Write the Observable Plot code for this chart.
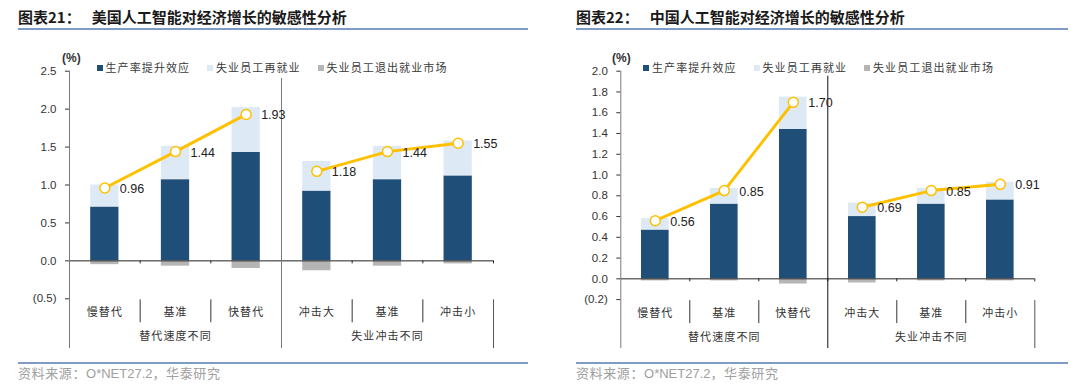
<!DOCTYPE html>
<html>
<head>
<meta charset="utf-8">
<script src="https://cdn.jsdelivr.net/npm/d3@7"></script>
<script src="https://cdn.jsdelivr.net/npm/@observablehq/plot@0.6"></script>
<style>
  html, body { margin: 0; padding: 0; background: #fff; }
  body { width: 1080px; height: 390px; overflow: hidden; position: relative; font-family: "Liberation Sans", Arial, sans-serif; }
  .panel { position: absolute; top: 0; width: 540px; height: 390px; }
  .title { position: absolute; top: 6px; font: bold 15px "Noto Sans CJK SC", sans-serif; color: #1a1a1a; white-space: nowrap; line-height: 22px; }
  .title .gap { display: inline-block; width: 11px; }
  .hrule { position: absolute; height: 2px; background: #7f9cc7; }
  .frule { position: absolute; height: 1.5px; background: #7f9cc7; }
  .source { position: absolute; top: 364px; font: 13px "Noto Sans CJK SC", sans-serif; color: #a0a0a0; letter-spacing: 0.6px; white-space: nowrap; line-height: 18px; }
  .source .lat { font-family: "Liberation Sans", Arial, sans-serif; letter-spacing: 0; }
  .plotbox { position: absolute; top: 40px; left: 0; }
  .unit { position: absolute; top: 51px; font: bold 12px "Liberation Sans", Arial, sans-serif; color: #333; }
  .legend { position: absolute; top: 59px; height: 16px; font: 11px "Noto Sans CJK SC", sans-serif; color: #3a3a3a; letter-spacing: 1.1px; white-space: nowrap; line-height: 16px; }
  .legend span.sw { display: inline-block; width: 6px; height: 6px; margin-right: 3px; vertical-align: 1px; }
  .legend .item { position: absolute; top: 0; }
  g[font-family*="CJK"] text { letter-spacing: 1.1px; }
</style>
</head>
<body>
<script>
// ---------- data ----------
const categories = ["慢替代", "基准", "快替代", "冲击大", "基准", "冲击小"];
const groupNames = ["替代速度不同", "失业冲击不同"];
const seriesNames = ["生产率提升效应", "失业员工再就业", "失业员工退出就业市场"];

// 美国 (图表21)
const usProductivity = [0.71, 1.07, 1.43, 0.92, 1.07, 1.12];
const usReemployment = [0.29, 0.44, 0.59, 0.39, 0.44, 0.46];
const usExit         = [-0.05, -0.07, -0.10, -0.13, -0.07, -0.04];
const usNet          = [0.96, 1.44, 1.93, 1.18, 1.44, 1.55];
const usYTicks       = [-0.5, 0, 0.5, 1.0, 1.5, 2.0, 2.5];

// 中国 (图表22)
const cnProductivity = [0.47, 0.72, 1.44, 0.60, 0.72, 0.76];
const cnReemployment = [0.11, 0.15, 0.31, 0.13, 0.15, 0.17];
const cnExit         = [-0.02, -0.02, -0.05, -0.04, -0.02, -0.02];
const cnNet          = [0.56, 0.85, 1.70, 0.69, 0.85, 0.91];
const cnYTicks       = [-0.2, 0, 0.2, 0.4, 0.6, 0.8, 1.0, 1.2, 1.4, 1.6, 1.8, 2.0];

const titles = ["图表21：", "图表22："];
const titleTexts = ["美国人工智能对经济增长的敏感性分析", "中国人工智能对经济增长的敏感性分析"];
const sourceText = ["资料来源：", "O*NET27.2", "，华泰研究"];

// ---------- style ----------
const COLORS = ["#1F4E79", "#DDEAF6", "#B5B5B5"];
const LINE = "#FFC000";

const fmt = v => v < 0 ? `(${Math.abs(v).toFixed(1)})` : v.toFixed(1);

function chart(cfg) {
  const rows = categories.map((c, i) => ({
    i, c, g: i < 3 ? 0 : 1,
    prod: cfg.prod[i], re: cfg.re[i], exit: cfg.exit[i], net: cfg.net[i]
  }));
  const groupRows = groupNames.map((name, k) => ({name, pos: k * 3 + 1.5}));
  const H = 315;
  const frameBottom = H - cfg.mb;
  const frameH = frameBottom - cfg.mt;
  const longEnd = 308;
  const ext = frameBottom - longEnd;
  const bx1 = d => d.i + 0.3, bx2 = d => d.i + 0.7, cx = d => d.i + 0.5;
  return Plot.plot({
    width: 540, height: H,
    marginLeft: cfg.ml, marginRight: cfg.mr, marginTop: cfg.mt, marginBottom: cfg.mb,
    style: {fontFamily: "Liberation Sans, Arial, sans-serif", fontSize: "11.5px", color: "#333", background: "transparent", overflow: "visible"},
    x: {domain: [0, 6], axis: null},
    y: {domain: cfg.yDomain, ticks: cfg.yTicks, tickFormat: fmt, tickSize: 4, tickPadding: 9, label: null},
    marks: [
      Plot.rect(rows, {x1: bx1, x2: bx2, y1: 0, y2: "prod", fill: COLORS[0]}),
      Plot.rect(rows, {x1: bx1, x2: bx2, y1: "prod", y2: d => d.prod + d.re, fill: COLORS[1]}),
      Plot.rect(rows, {x1: bx1, x2: bx2, y1: 0, y2: "exit", fill: COLORS[2]}),
      Plot.ruleY([0], {stroke: "#222", strokeWidth: 1}),
      Plot.ruleX([1, 2, 3, 4, 5, 6], {y1: 0, y2: 0, insetBottom: -3, stroke: "#222"}),
      Plot.ruleX([0], {stroke: "#7a7a7a", insetBottom: ext}),
      Plot.ruleX([3], {stroke: cfg.sepColor, insetTop: cfg.sepInset, insetBottom: ext}),
      Plot.ruleX([6], {stroke: "#555", insetTop: frameH + 1, insetBottom: ext}),
      Plot.ruleX([1, 2, 4, 5], {stroke: "#333", insetTop: frameH + 1, insetBottom: -24}),
      Plot.line(rows, {x: cx, y: "net", z: "g", stroke: LINE, strokeWidth: 3}),
      Plot.dot(rows, {x: cx, y: "net", r: 5, fill: "white", stroke: LINE, strokeWidth: 1.5}),
      Plot.text(rows, {x: cx, y: "net", text: d => d.net.toFixed(2), textAnchor: "start", dx: 15, dy: 1, fontSize: 12.5, fill: "#222"}),
      Plot.text(rows, {x: cx, text: "c", frameAnchor: "bottom", dy: 17, fontFamily: "Noto Sans CJK SC", fontSize: 11, fill: "#333"}),
      Plot.text(groupRows, {x: "pos", text: "name", frameAnchor: "bottom", dy: 41, fontFamily: "Noto Sans CJK SC", fontSize: 11, fill: "#333"})
    ]
  });
}

function panel(left, cfg) {
  const p = document.createElement("div");
  p.className = "panel";
  p.style.left = left + "px";
  document.body.appendChild(p);

  const t = document.createElement("div");
  t.className = "title";
  t.style.left = cfg.textLeft + "px";
  t.innerHTML = `${cfg.title}<span class="gap"></span>${cfg.titleText}`;
  p.appendChild(t);

  const r1 = document.createElement("div");
  r1.className = "hrule";
  r1.style.left = cfg.textLeft + "px"; r1.style.width = cfg.ruleW + "px"; r1.style.top = "28px";
  p.appendChild(r1);

  const box = document.createElement("div");
  box.className = "plotbox";
  box.appendChild(chart(cfg));
  p.appendChild(box);

  const u = document.createElement("div");
  u.className = "unit";
  u.style.left = cfg.unitLeft + "px";
  u.textContent = "(%)";
  p.appendChild(u);

  const lg = document.createElement("div");
  lg.className = "legend";
  lg.style.left = cfg.legendLeft + "px";
  seriesNames.forEach((name, k) => {
    const it = document.createElement("div");
    it.className = "item";
    it.style.left = (k * 110.5) + "px";
    it.innerHTML = `<span class="sw" style="background:${COLORS[k]}"></span>${name}`;
    lg.appendChild(it);
  });
  p.appendChild(lg);

  const r2 = document.createElement("div");
  r2.className = "frule";
  r2.style.left = cfg.textLeft + "px"; r2.style.width = cfg.ruleW + "px"; r2.style.top = "362px";
  p.appendChild(r2);

  const s = document.createElement("div");
  s.className = "source";
  s.style.left = cfg.textLeft + "px";
  s.innerHTML = `${sourceText[0]}<span class="lat">${sourceText[1]}</span>${sourceText[2]}`;
  p.appendChild(s);
}

panel(0, {
  title: titles[0], titleText: titleTexts[0], textLeft: 18, ruleW: 510,
  prod: usProductivity, re: usReemployment, exit: usExit, net: usNet,
  yDomain: [-0.5, 2.5], yTicks: usYTicks,
  ml: 69, mr: 47, mt: 30.7, mb: 56.7,
  sepColor: "#7a7a7a", sepInset: 7.3,
  unitLeft: 62, legendLeft: 96.5
});
panel(540, {
  title: titles[1], titleText: titleTexts[1], textLeft: 36, ruleW: 492,
  prod: cnProductivity, re: cnReemployment, exit: cnExit, net: cnNet,
  yDomain: [-0.2, 2.0], yTicks: cnYTicks,
  ml: 80.3, mr: 45.7, mt: 30.7, mb: 55.9,
  sepColor: "#111", sepInset: 5,
  unitLeft: 72, legendLeft: 103
});
</script>
</body>
</html>
